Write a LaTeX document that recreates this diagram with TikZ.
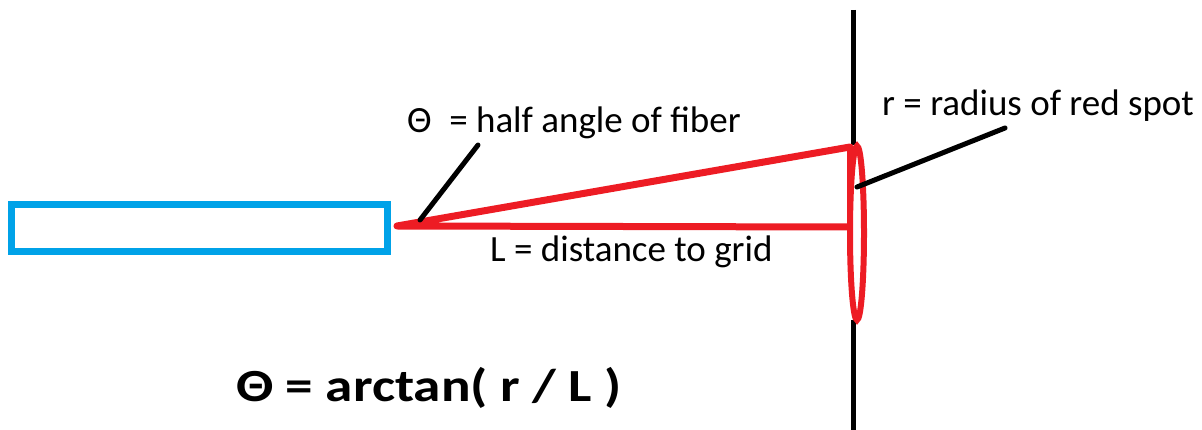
\documentclass[tikz,border=0pt]{standalone}
\usepackage{fontspec}
\setmainfont{Carlito}
\definecolor{fiberblue}{RGB}{0,162,232}
\definecolor{beamred}{RGB}{237,28,36}
\begin{document}
\begin{tikzpicture}[x=1pt,y=-1pt,
  fiber/.style={draw=fiberblue,line width=7pt},
  beam/.style={draw=beamred,line width=7pt,line cap=round,line join=round},
  spot/.style={draw=beamred,line width=6pt},
  grid/.style={draw=black,line width=5pt},
  pointer/.style={draw=black,line width=5pt,line cap=round},
  lbl/.style={anchor=base west,inner sep=0pt,font=\fontsize{37}{44}\selectfont},
  formula/.style={anchor=base west,inner sep=0pt,font=\bfseries\fontsize{46}{55}\selectfont}]
\useasboundingbox (0,0) rectangle (1202,430);
% fiber
\draw[fiber] (11,205) rectangle (387,252);
% grid
\coordinate (gtop) at (853,10);
\coordinate (gtopend) at (853,145);
\coordinate (gbot) at (853,320);
\coordinate (gbotend) at (853,430);
\draw[grid] (gtop) -- (gtopend);
\draw[grid] (gbot) -- (gbotend);
% beam
\coordinate (apex) at (397,226);
\coordinate (upper) at (850,147);
\coordinate (foot) at (848,227);
\draw[beam] (foot) -- (apex) -- (upper);
\draw[spot] (850,148) -- (850,228);
\draw[spot] (857,233) ellipse (7 and 87);
% labels
\node[lbl] (theta) at (407,133) {Θ\hspace{0.25em} = half angle of fiber};
\node[lbl] (L) at (490,262) {L = distance to grid};
\node[lbl] (r) at (882,116) {r = radius of red spot};
\node[formula] (f) at (236,401) {\scalebox{1.2}[1]{Θ = arctan( r / L )}};
% pointers
\coordinate (tp1) at (478,145);
\coordinate (tp2) at (420,220);
\draw[pointer] (tp1) -- (tp2);
\coordinate (rp1) at (1005,128);
\coordinate (rp2) at (857,187);
\draw[pointer] (rp1) -- (rp2);
\end{tikzpicture}
\end{document}
